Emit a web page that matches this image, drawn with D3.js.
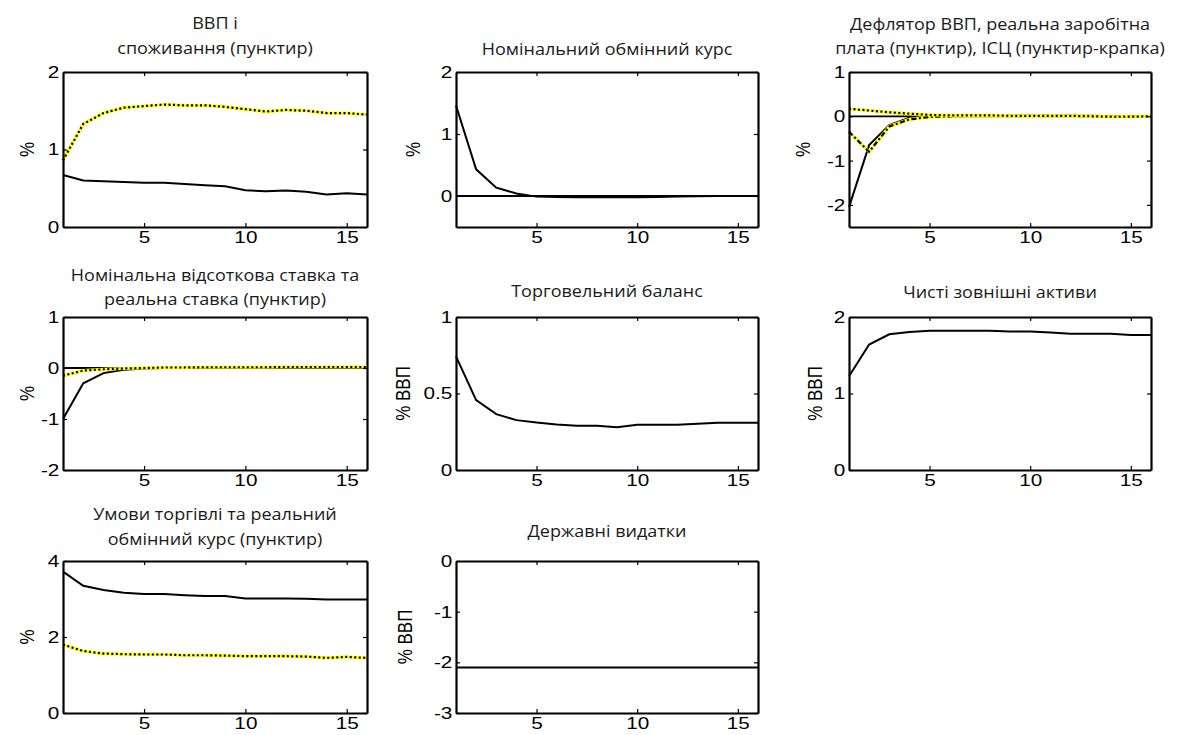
<!DOCTYPE html>
<html>
<head>
<meta charset="utf-8">
<script src="https://cdn.jsdelivr.net/npm/d3@7"></script>
<style>
  body { margin: 0; background: #fff; }
  .title { font-family: "Open Sans", sans-serif; font-size: 17px; fill: #1a1a1a; }
  .ylab { font-family: "Liberation Sans", Arial, sans-serif; font-size: 17px; fill: #000; }
</style>
</head>
<body>
<svg id="chart" width="1187" height="735"></svg>
<script>
// horizon (quarters)
const horizon = [1, 2, 3, 4, 5, 6, 7, 8, 9, 10, 11, 12, 13, 14, 15, 16];
const xTicks = [5, 10, 15];

// responses
const gdp = [0.67, 0.60, 0.59, 0.58, 0.57, 0.57, 0.555, 0.54, 0.525, 0.475, 0.46, 0.47, 0.455, 0.42, 0.435, 0.42];
const consumption = [0.86, 1.33, 1.47, 1.54, 1.56, 1.58, 1.57, 1.57, 1.55, 1.52, 1.49, 1.51, 1.50, 1.47, 1.47, 1.45];

const nominalFx = [1.46, 0.43, 0.135, 0.04, -0.01, -0.015, -0.02, -0.02, -0.02, -0.02, -0.015, -0.01, -0.005, 0, 0, 0];

const deflator = [-2.05, -0.65, -0.2, -0.03, 0.0, 0.01, 0.01, 0.01, 0.01, 0.02, 0.01, 0.01, 0.01, 0.0, 0.0, 0.0];
const realWage = [0.17, 0.13, 0.09, 0.06, 0.03, 0.02, 0.02, 0.02, 0.01, 0.01, 0.01, 0.01, 0.0, -0.01, -0.01, 0.0];
const cpi = [-0.35, -0.8, -0.23, -0.07, -0.015, 0.0, 0.01, 0.01, 0.01, 0.01, 0.01, 0.01, 0.0, 0.0, 0.0, 0.0];

const nominalRate = [-1.0, -0.3, -0.1, -0.035, -0.01, 0.0, 0.01, 0.01, 0.01, 0.01, 0.01, 0.01, 0.01, 0.01, 0.01, 0.01];
const realRate = [-0.15, -0.05, -0.025, -0.01, 0.0, 0.01, 0.01, 0.015, 0.015, 0.015, 0.015, 0.02, 0.02, 0.02, 0.02, 0.02];

const tradeBalance = [0.743, 0.457, 0.365, 0.326, 0.311, 0.298, 0.289, 0.289, 0.28, 0.296, 0.296, 0.296, 0.302, 0.309, 0.309, 0.309];

const netForeignAssets = [1.226, 1.64, 1.774, 1.804, 1.82, 1.82, 1.82, 1.82, 1.81, 1.81, 1.796, 1.78, 1.78, 1.78, 1.765, 1.765];

const termsOfTrade = [3.72, 3.35, 3.235, 3.165, 3.13, 3.13, 3.10, 3.08, 3.08, 3.015, 3.015, 3.015, 3.007, 2.99, 2.99, 2.99];
const realFx = [1.80, 1.63, 1.565, 1.547, 1.54, 1.54, 1.52, 1.52, 1.51, 1.495, 1.495, 1.495, 1.485, 1.45, 1.475, 1.45];

const govSpending = [-2.1, -2.1, -2.1, -2.1, -2.1, -2.1, -2.1, -2.1, -2.1, -2.1, -2.1, -2.1, -2.1, -2.1, -2.1, -2.1];

const panels = [
  { title: ["ВВП і", "споживання (пунктир)"], ylab: "%", domain: [0, 2], ticks: [0, 1, 2],
    series: [{ v: gdp, s: "solid" }, { v: consumption, s: "dot" }] },
  { title: ["Номінальний обмінний курс"], ylab: "%", domain: [-0.5, 2], ticks: [0, 1, 2], zero: true,
    series: [{ v: nominalFx, s: "solid" }] },
  { title: ["Дефлятор ВВП, реальна заробітна", "плата (пунктир), ІСЦ (пунктир-крапка)"], ylab: "%", domain: [-2.5, 1], ticks: [-2, -1, 0, 1], zero: true,
    series: [{ v: deflator, s: "solid" }, { v: cpi, s: "dashdot" }, { v: realWage, s: "dot" }] },
  { title: ["Номінальна відсоткова ставка та", "реальна ставка (пунктир)"], ylab: "%", domain: [-2, 1], ticks: [-2, -1, 0, 1], zero: true,
    series: [{ v: nominalRate, s: "solid" }, { v: realRate, s: "dot" }] },
  { title: ["Торговельний баланс"], ylab: "% ВВП", domain: [0, 1], ticks: [0, 0.5, 1],
    series: [{ v: tradeBalance, s: "solid" }] },
  { title: ["Чисті зовнішні активи"], ylab: "% ВВП", domain: [0, 2], ticks: [0, 1, 2],
    series: [{ v: netForeignAssets, s: "solid" }] },
  { title: ["Умови торгівлі та реальний", "обмінний курс (пунктир)"], ylab: "%", domain: [0, 4], ticks: [0, 2, 4],
    series: [{ v: termsOfTrade, s: "solid" }, { v: realFx, s: "dot" }] },
  { title: ["Державні видатки"], ylab: "% ВВП", domain: [-3, 0], ticks: [-3, -2, -1, 0],
    series: [{ v: govSpending, s: "solid" }] }
];

// layout
const colX = [63, 456, 849];
const colW = [304, 302, 302];
const rowY = [72, 317, 561];
const rowH = [155, 153, 152];
const titleBase = [[29, 54], [55], [30, 54], [281, 305], [297], [298], [520, 545], [537]];
const ylabX = [27, 413, 803, 27, 403, 815, 27, 405];
const stretch = 1.22; // the source figure is stretched sideways

const svg = d3.select("#chart");

panels.forEach((p, i) => {
  const c = i % 3, r = Math.floor(i / 3);
  const w = colW[c], h = rowH[r];
  const g = svg.append("g").attr("transform", `translate(${colX[c]},${rowY[r]})`);

  const x = d3.scaleLinear().domain([1, 16]).range([0, w]);
  const y = d3.scaleLinear().domain(p.domain).range([h, 0]);

  if (p.zero) {
    g.append("line")
      .attr("x1", 0).attr("x2", w)
      .attr("y1", y(0)).attr("y2", y(0))
      .attr("stroke", "#000").attr("stroke-width", 1.8);
  }

  const line = d3.line().x((d, k) => x(horizon[k])).y(d => y(d));

  p.series.forEach(s => {
    if (s.s === "solid") {
      g.append("path").datum(s.v).attr("d", line)
        .attr("fill", "none").attr("stroke", "#000").attr("stroke-width", 2);
    } else {
      g.append("path").datum(s.v).attr("d", line)
        .attr("fill", "none").attr("stroke", "#ffff00").attr("stroke-width", 3.2);
      g.append("path").datum(s.v).attr("d", line)
        .attr("fill", "none").attr("stroke", "#000").attr("stroke-width", 2.2)
        .attr("stroke-dasharray", s.s === "dot" ? "2,2.5" : "5,2.5,2,2.5");
    }
  });

  const styleAxis = sel => {
    sel.attr("font-family", "Liberation Sans, Arial, sans-serif").attr("font-size", 17);
    sel.select(".domain").attr("stroke", "#000").attr("stroke-width", 2.2);
    sel.selectAll(".tick line").attr("stroke", "#000").attr("stroke-width", 1.2);
    sel.selectAll(".tick text").attr("fill", "#000").attr("transform", `scale(${stretch},1)`);
  };
  const fmt = d => String(d);

  g.append("g").attr("transform", `translate(0,${h})`)
    .call(d3.axisBottom(x).tickValues(xTicks).tickSize(-4).tickSizeOuter(0).tickPadding(4).tickFormat(fmt))
    .call(styleAxis);
  g.append("g")
    .call(d3.axisTop(x).tickValues(xTicks).tickSize(-4).tickSizeOuter(0).tickFormat(""))
    .call(styleAxis);
  g.append("g")
    .call(d3.axisLeft(y).tickValues(p.ticks).tickSize(-4).tickSizeOuter(0).tickPadding(3).tickFormat(fmt))
    .call(styleAxis);
  g.append("g").attr("transform", `translate(${w},0)`)
    .call(d3.axisRight(y).tickValues(p.ticks).tickSize(-4).tickSizeOuter(0).tickFormat(""))
    .call(styleAxis);

  // title
  p.title.forEach((t, k) => {
    svg.append("text").attr("class", "title")
      .attr("transform", `translate(${colX[c] + w / 2},${titleBase[i][k]}) scale(1.06,1)`)
      .attr("text-anchor", "middle").text(t);
  });

  // y label
  svg.append("text").attr("class", "ylab")
    .attr("transform", `translate(${ylabX[i]},${rowY[r] + h / 2}) scale(${stretch},1) rotate(-90)`)
    .attr("text-anchor", "middle").attr("dy", "0.35em")
    .text(p.ylab);
});
</script>
</body>
</html>
